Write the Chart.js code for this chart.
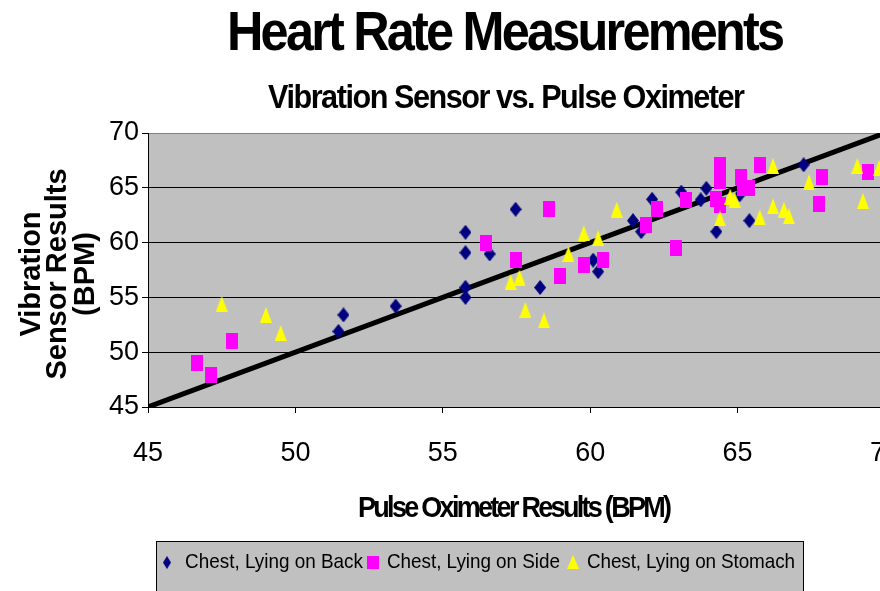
<!DOCTYPE html>
<html>
<head>
<meta charset="utf-8">
<script src="https://cdn.jsdelivr.net/npm/chart.js@4.4.0/dist/chart.umd.min.js"></script>
<style>
  html, body { margin: 0; padding: 0; overflow: hidden; background: #fff; }
  #wrap { width: 900px; height: 591px; }
</style>
</head>
<body>
<div id="wrap"><canvas id="grafico" width="900" height="591"></canvas></div>
<script>
// datos
const backX = [51.46, 51.63, 53.4, 55.77, 55.77, 56.59, 57.47, 55.77, 55.77, 58.3, 60.1, 60.27, 61.45, 61.73, 62.1, 63.09, 63.75, 63.94, 64.28, 65.07, 65.4, 67.24];
const backY = [51.9, 53.4, 54.2, 60.94, 59.08, 58.96, 63.04, 55.92, 55.0, 55.9, 58.4, 57.35, 62.0, 61.0, 63.95, 64.6, 63.9, 64.95, 61.0, 64.35, 62.0, 67.1];

const sideX = [46.67, 47.15, 47.86, 56.48, 57.47, 58.6, 58.97, 59.78, 60.43, 61.9, 62.27, 62.92, 63.26, 64.4, 64.4, 64.28, 64.4, 65.12, 65.2, 65.4, 65.75, 67.87, 67.76, 69.42];
const sideY = [49.0, 47.9, 51.05, 59.94, 58.41, 63.04, 56.95, 58.0, 58.41, 61.6, 63.07, 59.5, 63.9, 67.1, 65.65, 63.95, 63.4, 66.0, 64.95, 64.95, 67.1, 66.0, 63.5, 66.4];

const stomachX = [47.5, 49.0, 49.5, 57.3, 57.6, 57.8, 58.43, 59.26, 59.78, 60.27, 60.9, 64.4, 64.75, 64.9, 65.75, 66.2, 66.2, 66.57, 66.74, 67.42, 69.06, 69.25, 69.8];
const stomachY = [54.4, 53.4, 51.75, 56.4, 56.8, 53.85, 52.9, 58.96, 60.85, 60.4, 63.0, 62.2, 64.2, 63.9, 62.3, 67.0, 63.3, 63.0, 62.4, 65.5, 67.0, 63.8, 66.8];

const lineX = [45, 70];
const lineY = [45, 70];

const seriesNames = ['Chest, Lying on Back', 'Chest, Lying on Side', 'Chest, Lying on Stomach'];
const FONT = '"Liberation Sans", Arial, sans-serif';

function puntos(xs, ys) {
    return xs.map((x, i) => ({ x: x, y: ys[i] }));
}

// marcadores como en Excel
function marcador(tipo, w, h, color) {
    const c = document.createElement('canvas');
    c.width = w; c.height = h;
    const g = c.getContext('2d');
    g.fillStyle = color;
    g.beginPath();
    if (tipo === 'diamond') {
        g.moveTo(w / 2, 0); g.lineTo(w, h / 2); g.lineTo(w / 2, h); g.lineTo(0, h / 2);
    } else if (tipo === 'triangle') {
        g.moveTo(w / 2, 0); g.lineTo(w, h); g.lineTo(0, h);
    } else {
        g.rect(0, 0, w, h);
    }
    g.closePath();
    g.fill();
    return c;
}

const mDiamond = marcador('diamond', 12, 15, '#000080');
const mSquare = marcador('rect', 12, 16, '#FF00FF');
const mTriangle = marcador('triangle', 12, 16, '#FFFF00');

// texto apretado como el original
function textoAjustado(ctx, text, left, base, font, target) {
    ctx.save();
    ctx.font = font;
    ctx.textAlign = 'left';
    ctx.textBaseline = 'alphabetic';
    ctx.fillStyle = '#000';
    const hasLS = 'letterSpacing' in ctx;
    if (hasLS) ctx.letterSpacing = '0px';
    const w0 = ctx.measureText(text).width;
    let sx = target / w0;
    if (sx < 0.9 && hasLS) {
        sx = 0.9;
        const ls = (target / sx - w0) / (text.length - 1);
        ctx.letterSpacing = ls + 'px';
    }
    ctx.translate(left, base);
    ctx.scale(sx, 1);
    ctx.fillText(text, 0, 0);
    ctx.restore();
}

const fondoPlot = {
    id: 'fondoPlot',
    beforeDraw(chart) {
        const a = chart.chartArea;
        const ctx = chart.ctx;
        ctx.save();
        ctx.fillStyle = '#fff';
        ctx.fillRect(0, 0, chart.width, chart.height);
        ctx.fillStyle = '#C0C0C0';
        ctx.fillRect(a.left, a.top, a.right - a.left, a.bottom - a.top);
        ctx.restore();
    }
};

const textos = {
    id: 'textos',
    afterDraw(chart) {
        const ctx = chart.ctx;
        textoAjustado(ctx, 'Heart Rate Measurements', 227, 50, 'bold 56px ' + FONT, 558);
        textoAjustado(ctx, 'Vibration Sensor vs. Pulse Oximeter', 268, 108, 'bold 34px ' + FONT, 477);
        textoAjustado(ctx, 'Pulse Oximeter Results (BPM)', 358, 517, 'bold 30px ' + FONT, 314);

        // titulo eje y
        ctx.save();
        ctx.translate(0, 274);
        ctx.rotate(-Math.PI / 2);
        ctx.font = 'bold 29px ' + FONT;
        ctx.fillStyle = '#000';
        ctx.textAlign = 'center';
        ctx.textBaseline = 'middle';
        ctx.fillText('Vibration', 0, 32);
        ctx.fillText('Sensor Results', 0, 58);
        ctx.fillText('(BPM)', 0, 86);
        ctx.restore();

        // leyenda
        ctx.save();
        ctx.fillStyle = '#C0C0C0';
        ctx.fillRect(156.5, 541.5, 647, 60);
        ctx.strokeStyle = '#000';
        ctx.lineWidth = 1;
        ctx.strokeRect(156.5, 541.5, 647, 60);
        ctx.drawImage(mDiamond, 163, 556, 8, 13);
        ctx.drawImage(mSquare, 367, 556, 12, 13);
        ctx.drawImage(mTriangle, 567, 555, 12, 14);
        ctx.restore();
        textoAjustado(ctx, seriesNames[0], 185, 568, '21px ' + FONT, 178);
        textoAjustado(ctx, seriesNames[1], 387, 568, '21px ' + FONT, 173);
        textoAjustado(ctx, seriesNames[2], 587, 568, '21px ' + FONT, 208);
    }
};

const ctx = document.getElementById('grafico').getContext('2d');

const grafico = new Chart(ctx, {
    type: 'scatter',
    data: {
        datasets: [
            {
                label: seriesNames[0],
                data: puntos(backX, backY),
                pointStyle: mDiamond,
                order: 3
            },
            {
                label: seriesNames[1],
                data: puntos(sideX, sideY),
                pointStyle: mSquare,
                order: 2
            },
            {
                label: seriesNames[2],
                data: puntos(stomachX, stomachY),
                pointStyle: mTriangle,
                order: 1
            },
            {
                label: 'linea',
                data: puntos(lineX, lineY),
                showLine: true,
                borderColor: '#000',
                borderWidth: 5,
                pointRadius: 0,
                order: 4
            }
        ]
    },
    options: {
        responsive: false,
        animation: false,
        layout: {
            padding: { top: 133, right: 15, bottom: 0, left: 0 }
        },
        plugins: {
            legend: { display: false },
            title: { display: false },
            tooltip: { enabled: false }
        },
        scales: {
            x: {
                type: 'linear',
                min: 45,
                max: 70,
                afterFit: function(scale) {
                    scale.height = 184;
                    scale.paddingLeft = 0;
                    scale.paddingRight = 0;
                },
                ticks: {
                    stepSize: 5,
                    color: '#000',
                    padding: 24,
                    font: { family: FONT, size: 27 }
                },
                grid: {
                    drawOnChartArea: false,
                    drawTicks: true,
                    tickLength: 6,
                    tickColor: '#000'
                },
                border: { color: '#000', width: 1 }
            },
            y: {
                min: 45,
                max: 70,
                afterFit: function(scale) {
                    scale.width = 148;
                    scale.paddingTop = 0;
                    scale.paddingBottom = 0;
                },
                ticks: {
                    stepSize: 5,
                    color: '#000',
                    padding: 3,
                    font: { family: FONT, size: 27 }
                },
                grid: {
                    color: function(c) { return c.tick && c.tick.value === 70 ? '#808080' : '#000'; },
                    lineWidth: 1,
                    tickLength: 6,
                    tickColor: '#000'
                },
                border: { color: '#000', width: 1 }
            }
        }
    },
    plugins: [fondoPlot, textos]
});
</script>
</body>
</html>
